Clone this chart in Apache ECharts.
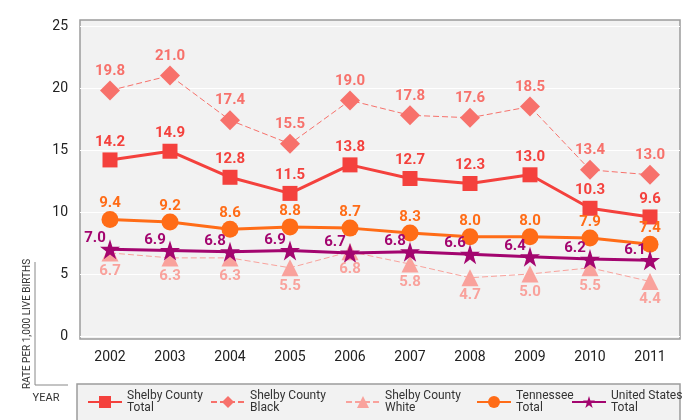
<!DOCTYPE html>
<html>
<head>
<meta charset="utf-8">
<script src="https://cdn.jsdelivr.net/npm/echarts@6/dist/echarts.min.js"></script>
<style>
  html, body { margin: 0; padding: 0; background: #fff; }
  #chart { width: 700px; height: 420px; }
</style>
</head>
<body>
<div id="chart"></div>
<script>
var years = ['2002', '2003', '2004', '2005', '2006', '2007', '2008', '2009', '2010', '2011'];

var shelbyTotal = [14.2, 14.9, 12.8, 11.5, 13.8, 12.7, 12.3, 13.0, 10.3, 9.6];
var shelbyBlack = [19.8, 21.0, 17.4, 15.5, 19.0, 17.8, 17.6, 18.5, 13.4, 13.0];
var shelbyWhite = [6.7, 6.3, 6.3, 5.5, 6.8, 5.8, 4.7, 5.0, 5.5, 4.4];
var tennessee = [9.4, 9.2, 8.6, 8.8, 8.7, 8.3, 8.0, 8.0, 7.9, 7.4];
var unitedStates = [7.0, 6.9, 6.8, 6.9, 6.7, 6.8, 6.6, 6.4, 6.2, 6.1];

var labelFont = "'Roboto', 'Liberation Sans', sans-serif";
var textFont = "'Roboto', 'Liberation Sans', sans-serif";

var chart = echarts.init(document.getElementById('chart'));

// legend items sit at uneven spots in the original box
function legendAt(name, left) {
    return {
        data: [name],
        left: left,
        top: 390,
        padding: 0,
        itemWidth: 34,
        itemHeight: 15,
        itemGap: 4,
        formatter: function (n) { return n.replace(/ (\S+)$/, '\n$1'); },
        textStyle: { fontFamily: textFont, fontSize: 12, color: '#333', lineHeight: 12 }
    };
}

function valueLabel(color, pos, extra) {
    var l = {
        show: true,
        position: pos,
        distance: 5,
        color: color,
        fontFamily: labelFont,
        fontWeight: 'bold',
        fontSize: 15,
        formatter: function (p) { return p.value.toFixed(1); }
    };
    for (var k in extra) l[k] = extra[k];
    return l;
}

var option = {
    animation: false,
    textStyle: { fontFamily: textFont },
    grid: { left: 80, right: 20, top: 26, bottom: 84 },
    graphic: [
        // plot panel
        { type: 'rect', z: -10, shape: { x: 80, y: 20, width: 600, height: 319 },
          style: { fill: '#f2f2f2', stroke: '#9c9c9c', lineWidth: 1.5 } },
        // legend panel
        { type: 'rect', z: -10, shape: { x: 77, y: 384, width: 603, height: 40 },
          style: { fill: '#f2f2f2', stroke: '#9c9c9c', lineWidth: 1.5 } },
        { type: 'text', x: 27, y: 324, rotation: Math.PI / 2,
          style: { text: 'RATE PER 1,000 LIVE BIRTHS', fill: '#333', font: '10px ' + textFont,
                   align: 'center', verticalAlign: 'middle' } },
        { type: 'line', shape: { x1: 35, y1: 262, x2: 35, y2: 385 }, style: { stroke: '#888', lineWidth: 1 } },
        { type: 'line', shape: { x1: 35, y1: 385, x2: 68, y2: 385 }, style: { stroke: '#888', lineWidth: 1 } },
        { type: 'text', x: 46, y: 398,
          style: { text: 'YEAR', fill: '#333', font: '11px ' + textFont, align: 'center', verticalAlign: 'middle' } }
    ],
    legend: [
        legendAt('Shelby County Total', 87),
        legendAt('Shelby County Black', 210),
        legendAt('Shelby County White', 345),
        legendAt('Tennessee Total', 476),
        legendAt('United States Total', 571)
    ],
    xAxis: {
        type: 'category',
        data: years,
        boundaryGap: true,
        axisLine: { show: false },
        axisTick: { show: false },
        axisLabel: { color: '#222', fontSize: 14, margin: 14 }
    },
    yAxis: {
        type: 'value',
        min: 0,
        max: 25,
        interval: 5,
        axisLine: { show: false },
        axisTick: { show: false },
        axisLabel: { color: '#222', fontSize: 14, margin: 12 },
        splitLine: { lineStyle: { color: '#ffffff', width: 1 } }
    },
    series: [
        {
            name: 'Shelby County Black', type: 'line', data: shelbyBlack,
            symbol: 'diamond', symbolSize: 20,
            itemStyle: { color: '#f7716b' },
            lineStyle: { color: '#f7716b', width: 1, type: [6, 3] },
            label: valueLabel('#f7716b', 'top', { distance: 2 })
        },
        {
            name: 'Shelby County White', type: 'line', data: shelbyWhite,
            symbol: 'triangle', symbolSize: 17,
            itemStyle: { color: '#f9a29c' },
            lineStyle: { color: '#f9a29c', width: 1, type: [6, 3] },
            label: valueLabel('#f9a29c', 'bottom', { distance: 2 })
        },
        {
            name: 'Shelby County Total', type: 'line', data: shelbyTotal,
            symbol: 'rect', symbolSize: 15,
            itemStyle: { color: '#f4413d' },
            lineStyle: { color: '#f4413d', width: 3 },
            label: valueLabel('#f4413d', 'top', { distance: 3 })
        },
        {
            name: 'Tennessee Total', type: 'line', data: tennessee,
            symbol: 'circle', symbolSize: 17,
            itemStyle: { color: '#ff6c17' },
            lineStyle: { color: '#ff6c17', width: 3 },
            label: valueLabel('#ff6c17', 'top', { distance: 0 })
        },
        {
            name: 'United States Total', type: 'line', data: unitedStates,
            symbol: 'path://M50,0 L61.8,35.5 L100,35.5 L69.1,57.5 L80.9,93 L50,71 L19.1,93 L30.9,57.5 L0,35.5 L38.2,35.5 Z',
            symbolSize: 20,
            itemStyle: { color: '#a3056f' },
            lineStyle: { color: '#a3056f', width: 3 },
            label: valueLabel('#a3056f', 'top', { distance: 0, offset: [-15, 7] })
        }
    ]
};

chart.setOption(option);
</script>
</body>
</html>
